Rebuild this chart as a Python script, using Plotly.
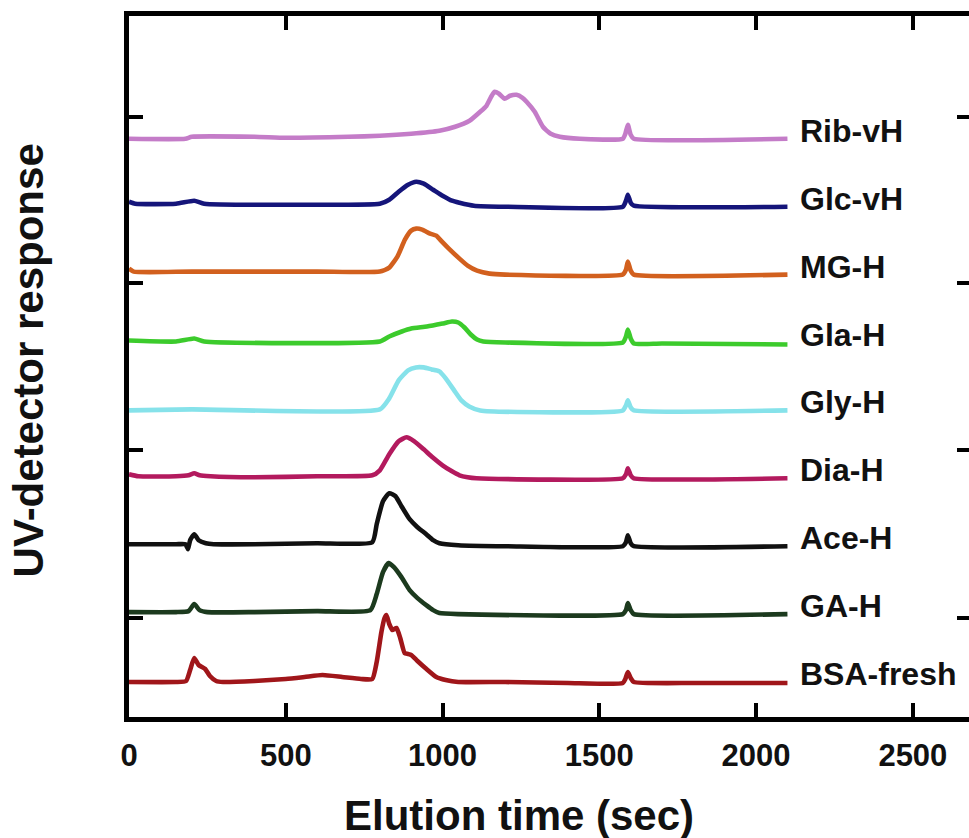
import plotly.graph_objects as go

# ---------------- data (elution time in s, response in a.u. above each trace's baseline) -------------
series_names = ["BSA-fresh", "GA-H", "Ace-H", "Dia-H", "Gly-H", "Gla-H", "MG-H", "Glc-vH", "Rib-vH"]

bsa_t = [0, 150, 182, 195, 208, 222, 243, 258, 278, 300, 400, 500, 560, 617, 680, 740, 776, 790, 805, 815, 821, 830, 840, 853, 865, 879, 890, 900, 920, 945, 980, 1010, 1050, 1200, 1400, 1575, 1583, 1591, 1600, 1610, 1800, 2100]
bsa_y = [0, 0, 1, 12, 24, 17, 13, 6, 1, 0, 1, 3, 5, 7, 5, 3, 3, 20, 50, 64, 67, 58, 52, 54, 44, 29, 28, 27, 21, 14, 5, 2, 0, 0, -1, -1, 3, 10, 4, 0, -1, -1]

ga_t = [0, 150, 190, 208, 225, 250, 400, 600, 770, 790, 810, 828, 845, 869, 895, 920, 948, 970, 990, 1050, 1575, 1585, 1591, 1600, 1610, 2100]
ga_y = [2, 2, 3, 10, 4, 2, 2, 3, 4, 20, 42, 51, 47, 37, 24, 16, 9, 4, 1, 0, 0, 4, 11, 4, 0, 0]

ace_t = [0, 150, 180, 188, 195, 208, 222, 245, 270, 400, 600, 776, 790, 810, 830, 850, 869, 895, 920, 948, 970, 990, 1050, 1200, 1575, 1585, 1591, 1600, 1610, 2100]
ace_y = [2, 2, 2, -3, 6, 12, 6, 3, 2, 2, 3, 4, 22, 45, 53, 50, 40, 27, 19, 12, 6, 3, 1, 0, 0, 4, 11, 3, 0, 0]

dia_t = [0, 30, 150, 190, 208, 225, 260, 400, 600, 776, 800, 830, 860, 885, 910, 940, 968, 1000, 1030, 1054, 1080, 1108, 1575, 1585, 1591, 1600, 1610, 2100]
dia_y = [4, 2, 2, 3, 5, 3, 2, 1, 2, 3, 8, 24, 37, 41, 37, 29, 21, 13, 7, 3, 1, 0, 0, 4, 10, 3, 0, 0]

gly_t = [0, 200, 800, 830, 860, 890, 915, 940, 965, 990, 1010, 1037, 1060, 1085, 1120, 1575, 1585, 1591, 1600, 1610, 2100]
gly_y = [0, 1, 1, 12, 30, 40, 43, 43, 41, 39, 32, 20, 10, 4, 0, 0, 5, 10, 3, 0, 0]

gla_t = [0, 150, 208, 240, 800, 830, 870, 900, 950, 1000, 1030, 1050, 1070, 1090, 1110, 1130, 1200, 1575, 1585, 1591, 1600, 1610, 1700, 2100]
gla_y = [2, 1, 4, 1, 1, 6, 11, 14, 16, 19, 21, 20, 15, 8, 3, 1, 0, 0, 6, 13, 4, -1, -1, -2]

mg_t = [0, 15, 200, 600, 800, 830, 856, 880, 900, 916, 935, 960, 980, 995, 1020, 1054, 1080, 1110, 1150, 1200, 1575, 1585, 1591, 1600, 1610, 2100]
mg_y = [6, 3, 3, 3, 3, 7, 18, 35, 44, 46, 45, 41, 39, 34, 26, 16, 9, 4, 1, 0, 0, 5, 13, 4, 0, 0]

glc_t = [0, 20, 150, 208, 240, 600, 800, 830, 860, 890, 916, 940, 970, 1000, 1030, 1054, 1100, 1200, 1575, 1585, 1591, 1600, 1610, 2100]
glc_y = [5, 3, 3, 6, 3, 2, 3, 7, 15, 22, 25, 23, 17, 11, 6, 4, 1, 0, 0, 6, 12, 4, 1, 0]

rib_t = [0, 180, 200, 400, 500, 700, 800, 900, 990, 1040, 1086, 1120, 1140, 1155, 1166, 1180, 1198, 1215, 1236, 1255, 1268, 1294, 1320, 1345, 1374, 1438, 1575, 1583, 1591, 1600, 1610, 2100]
rib_y = [0, 0, 2, 2, 1, 2, 3, 5, 8, 12, 18, 27, 33, 42, 47, 45, 40, 43, 44, 41, 37, 27, 12, 5, 2, 0, 0, 5, 14, 4, 0, 0]

x_tick_vals = [0, 500, 1000, 1500, 2000, 2500]
x_tick_text = ["0", "500", "1000", "1500", "2000", "2500"]

# ---------------- styling ----------------
colors = ["#A0161A", "#1C3A1E", "#111111", "#B31A5E", "#86E2EA", "#3CCB2C", "#D2601E", "#15157A", "#C47CC8"]
times = [bsa_t, ga_t, ace_t, dia_t, gly_t, gla_t, mg_t, glc_t, rib_t]
vals = [bsa_y, ga_y, ace_y, dia_y, gly_y, gla_y, mg_y, glc_y, rib_y]

BASE = 35.0      # offset of lowest trace
STEP = 67.9      # vertical spacing between stacked traces
Y_RANGE = [0, 701]
Y_TICKS = [99, 267, 434, 600]
FONT = "Liberation Sans, Arial, Helvetica, sans-serif"

fig = go.Figure()
annotations = []
for i, (name, t, v, c) in enumerate(zip(series_names, times, vals, colors)):
    off = BASE + i * STEP
    fig.add_trace(go.Scatter(
        x=t, y=[val + off for val in v], mode="lines", name=name,
        line=dict(color=c, width=4.6, shape="spline", smoothing=0.5),
        showlegend=False, hoverinfo="skip"))
    annotations.append(dict(
        x=2134, y=off + 8, xref="x", yref="y", text=name, showarrow=False,
        xanchor="left", yanchor="middle",
        font=dict(family=FONT, size=32, color="#111111", weight="bold")))

# empty helper trace so the right-hand tick axis is drawn
fig.add_trace(go.Scatter(x=[], y=[], yaxis="y2", mode="lines",
                         showlegend=False, hoverinfo="skip"))

annotations.append(dict(
    x=0.464, y=-0.14, xref="paper", yref="paper", text="Elution time (sec)",
    showarrow=False, xanchor="center", yanchor="middle",
    font=dict(family=FONT, size=42, color="#111111", weight="bold")))
annotations.append(dict(
    x=-0.12, y=0.509, xref="paper", yref="paper", text="UV-detector response",
    showarrow=False, textangle=-90, xanchor="center", yanchor="middle",
    font=dict(family=FONT, size=42, color="#111111", weight="bold")))

fig.update_layout(
    width=969, height=838,
    margin=dict(l=129, r=0, t=16, b=121),
    paper_bgcolor="white", plot_bgcolor="white",
    annotations=annotations,
    xaxis=dict(
        range=[0, 2679], tickvals=x_tick_vals, ticktext=x_tick_text,
        ticks="inside", ticklen=14, tickwidth=4, tickcolor="black",
        showline=True, linewidth=5, linecolor="black", mirror="ticks",
        showgrid=False, zeroline=False, ticklabelstandoff=7,
        tickfont=dict(family=FONT, size=31, color="#111111", weight="bold")),
    yaxis=dict(
        range=Y_RANGE, tickvals=Y_TICKS, showticklabels=False,
        ticks="inside", ticklen=14, tickwidth=4, tickcolor="black",
        showline=True, linewidth=5, linecolor="black", mirror=False,
        showgrid=False, zeroline=False),
    yaxis2=dict(
        range=Y_RANGE, tickvals=Y_TICKS, showticklabels=False,
        overlaying="y", side="right", anchor="x",
        ticks="inside", ticklen=12, tickwidth=4, tickcolor="black",
        showline=False, showgrid=False, zeroline=False),
)

fig.write_html("out.html")
